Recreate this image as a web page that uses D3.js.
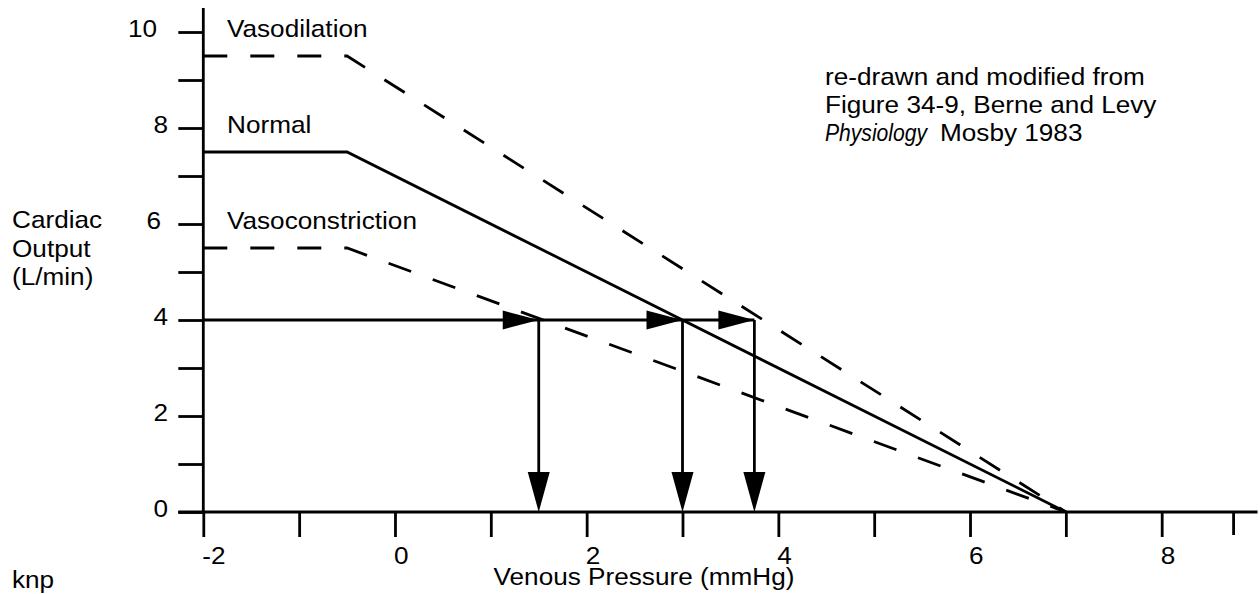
<!DOCTYPE html>
<html>
<head>
<meta charset="utf-8">
<script src="https://cdn.jsdelivr.net/npm/d3@7"></script>
<style>
  body { margin: 0; background: #fff; }
  svg { display: block; }
  text { font-family: "Liberation Sans", Arial, Helvetica, sans-serif; font-size: 24px; fill: #000; }
</style>
</head>
<body>
<svg id="chart" width="1260" height="594"></svg>
<script>
// venous pressure break points (mmHg) shared by the three curves
var pressure = [-2, -0.5, 7];
var normalCO = [7.5, 7.5, 0];
var vasodilationCO = [9.5, 9.5, 0];
var vasoconstrictionCO = [5.5, 5.5, 0];

var seriesNames = ["Vasodilation", "Normal", "Vasoconstriction"];
var seriesLabelY = [10, 8, 6];

// arrows: horizontal at CO = 4, dropping down to the pressure axis
var arrowLevel = 4;
var arrowPressure = [1.5, 3, 3.75];

var xTicks = [-2, -1, 0, 1, 2, 3, 4, 5, 6, 7, 8];
var xTickLabels = ["-2", "", "0", "", "2", "", "4", "", "6", "", "8"];
var yTicks = [0, 1, 2, 3, 4, 5, 6, 7, 8, 9, 10];
var yTickLabels = ["0", "", "2", "", "4", "", "6", "", "8", "", "10"];

var yTitle = ["Cardiac", "Output", "(L/min)"];
var xTitle = "Venous Pressure (mmHg)";
var credit = ["re-drawn and modified from", "Figure 34-9, Berne and Levy"];
var creditItalic = "Physiology";
var creditRest = "Mosby 1983";

var svg = d3.select("#chart");
var sx = 1.09; // the glyphs in the picture are a bit wider than normal
var lw = 2.8;

var x = d3.scaleLinear().domain([-2, 8]).range([203.3, 1161.7]);
var y = d3.scaleLinear().domain([0, 10]).range([512, 32]);

function label(sel, px, py, anchor, scale) {
    return sel.append("text")
        .attr("transform", "translate(" + px + "," + py + ") scale(" + (scale || sx) + ",1)")
        .attr("text-anchor", anchor || "start");
}

// axes
var xAxis = d3.axisBottom(x).tickValues(xTicks).tickSize(25).tickSizeOuter(0).tickFormat("");
var gx = svg.append("g").attr("transform", "translate(0," + y(0) + ")").call(xAxis);
gx.select(".domain").remove();
gx.selectAll(".tick line").attr("stroke", "#000").attr("stroke-width", lw);

var yAxis = d3.axisLeft(y).tickValues(yTicks).tickSize(25).tickSizeOuter(0).tickFormat("");
var gy = svg.append("g").attr("transform", "translate(" + x(-2) + ",0)").call(yAxis);
gy.select(".domain").remove();
gy.selectAll(".tick line").attr("stroke", "#000").attr("stroke-width", lw);

// axis lines run a little past the ticks
svg.append("line")
    .attr("x1", x(-2) - 25).attr("x2", x(9))
    .attr("y1", y(0)).attr("y2", y(0))
    .attr("stroke", "#000").attr("stroke-width", lw);
svg.append("line")
    .attr("x1", x(-2)).attr("x2", x(-2))
    .attr("y1", y(0)).attr("y2", y(10.5))
    .attr("stroke", "#000").attr("stroke-width", lw);
// short end tick
svg.append("line")
    .attr("x1", x(8.75)).attr("x2", x(8.75))
    .attr("y1", y(0)).attr("y2", y(0) + 23)
    .attr("stroke", "#000").attr("stroke-width", lw);

// tick labels
xTicks.forEach(function(t, i) {
    if (xTickLabels[i]) label(svg, x(t) - 1, 564, "start").text(xTickLabels[i]);
});
var yNudge = { "10": -11, "6": -7 };
yTicks.forEach(function(t, i) {
    var s = yTickLabels[i];
    if (s) label(svg, 168 + (yNudge[s] || 0), y(t) + 5, "end").text(s);
});

// curves
var line = d3.line().x(function(d) { return x(d[0]); }).y(function(d) { return y(d[1]); });
var curves = [
    { values: vasodilationCO, dash: "24,23" },
    { values: normalCO, dash: null },
    { values: vasoconstrictionCO, dash: "24,23" }
];
curves.forEach(function(c) {
    var pts = pressure.map(function(p, i) { return [p, c.values[i]]; });
    svg.append("path")
        .attr("d", line(pts))
        .attr("fill", "none")
        .attr("stroke", "#000")
        .attr("stroke-width", lw)
        .attr("stroke-dasharray", c.dash);
});

seriesNames.forEach(function(n, i) {
    label(svg, 227, y(seriesLabelY[i]) + 5).text(n);
});

// arrows
var ay = y(arrowLevel);
svg.append("line")
    .attr("x1", x(-2)).attr("x2", x(d3.max(arrowPressure)))
    .attr("y1", ay).attr("y2", ay)
    .attr("stroke", "#000").attr("stroke-width", lw);
arrowPressure.forEach(function(p) {
    var ax = x(p);
    svg.append("path")
        .attr("d", "M" + ax + "," + ay + "L" + (ax - 36) + "," + (ay - 9.5) + "L" + (ax - 36) + "," + (ay + 9.5) + "Z")
        .attr("fill", "#000");
    svg.append("line")
        .attr("x1", ax).attr("x2", ax)
        .attr("y1", ay).attr("y2", y(0) - 30)
        .attr("stroke", "#000").attr("stroke-width", lw);
    svg.append("path")
        .attr("d", "M" + ax + "," + y(0) + "L" + (ax - 11) + "," + (y(0) - 40) + "L" + (ax + 11) + "," + (y(0) - 40) + "Z")
        .attr("fill", "#000");
});

// titles and notes
yTitle.forEach(function(s, i) {
    label(svg, 12, 228 + i * 28.5).text(s);
});
label(svg, 644, 585, "middle").text(xTitle);
label(svg, 12, 588).text("knp");

credit.forEach(function(s, i) {
    label(svg, 825, 85 + i * 27.7).text(s);
});
// the italic word is set narrow in the picture
label(svg, 825, 140.5, "start", 0.88).attr("font-style", "italic").text(creditItalic);
label(svg, 940, 140.5).text(creditRest);
</script>
</body>
</html>
